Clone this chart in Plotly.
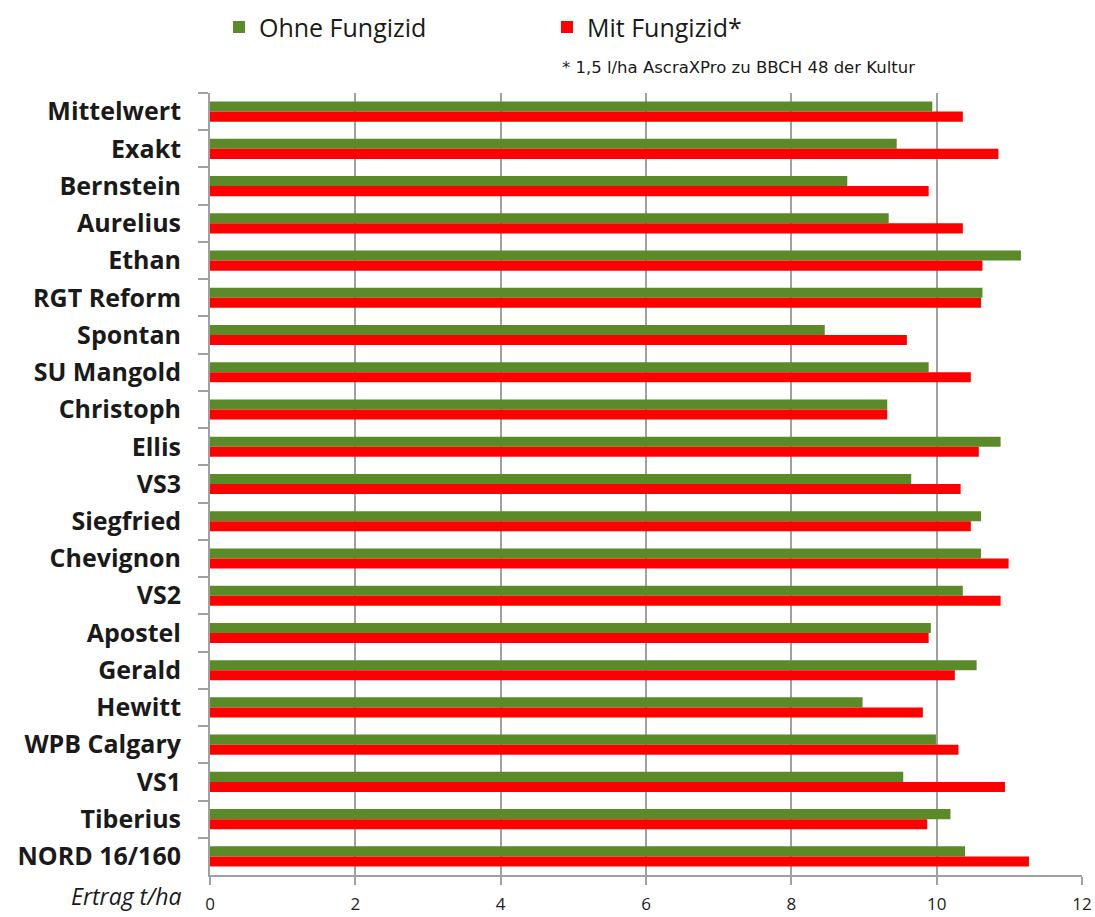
import plotly.graph_objects as go

sorten = ["Mittelwert", "Exakt", "Bernstein", "Aurelius", "Ethan", "RGT Reform",
          "Spontan", "SU Mangold", "Christoph", "Ellis", "VS3", "Siegfried",
          "Chevignon", "VS2", "Apostel", "Gerald", "Hewitt", "WPB Calgary",
          "VS1", "Tiberius", "NORD 16/160"]
ohne_fungizid = [9.94, 9.45, 8.77, 9.34, 11.16, 10.63, 8.46, 9.89, 9.32, 10.88, 9.65,
                 10.61, 10.61, 10.36, 9.92, 10.55, 8.98, 9.99, 9.54, 10.19, 10.39]
mit_fungizid = [10.36, 10.85, 9.89, 10.36, 10.63, 10.61, 9.59, 10.47, 9.32, 10.58, 10.33,
                10.47, 10.99, 10.88, 9.89, 10.25, 9.81, 10.30, 10.94, 9.87, 11.27]
x_ticks = [0, 2, 4, 6, 8, 10, 12]

FONT = "Open Sans"

fig = go.Figure()
fig.add_trace(go.Bar(y=sorten, x=ohne_fungizid, orientation="h", name="Ohne Fungizid",
                     marker=dict(color="#5B8A28", line=dict(width=0))))
fig.add_trace(go.Bar(y=sorten, x=mit_fungizid, orientation="h", name="Mit Fungizid*",
                     marker=dict(color="#FF0000", line=dict(width=0))))

fig.update_layout(
    width=1095, height=917,
    margin=dict(l=210, r=13, t=93, b=42, autoexpand=False),
    paper_bgcolor="white", plot_bgcolor="white",
    barmode="group", bargap=0.46, bargroupgap=0,
    font=dict(family=FONT, color="#1a1a1a"),
    legend=dict(orientation="h", x=0.0103, xanchor="left", y=1.084, yanchor="middle",
                font=dict(size=25, family=FONT, color="#1a1a1a"),
                entrywidth=283, entrywidthmode="pixels", traceorder="normal",
                itemclick=False),
    xaxis=dict(range=[0, 12], tickvals=x_ticks, showgrid=True, gridcolor="#a0a0a0",
               gridwidth=2, showline=True, linecolor="#a0a0a0", linewidth=2,
               ticks="outside", ticklen=8, tickcolor="#a0a0a0", tickwidth=2,
               tickfont=dict(size=17, family=FONT, color="#222222"),
               ticklabelstandoff=5, zeroline=False, automargin=False),
    yaxis=dict(categoryorder="array", categoryarray=sorten, autorange="reversed",
               showline=True, linecolor="#a0a0a0", linewidth=2,
               ticks="outside", ticklen=10, tickcolor="#a0a0a0", tickwidth=2,
               tickson="boundaries", showgrid=False, automargin=False,
               tickfont=dict(size=25, family=FONT, color="#1a1a1a", weight="bold"),
               ticklabelstandoff=22),
    annotations=[
        dict(text="Ertrag t/ha", xref="paper", yref="paper", x=-0.031, y=-0.0505,
             xanchor="right", yanchor="bottom", showarrow=False,
             font=dict(size=23, family=FONT, color="#1a1a1a", style="italic")),
        dict(text="* 1,5 l/ha AscraXPro zu BBCH 48 der Kultur", xref="paper", yref="paper",
             x=0.401, y=1.032, xanchor="left", yanchor="middle", showarrow=False,
             font=dict(size=16.5, family="DejaVu Sans", color="#1a1a1a")),
    ],
)

fig.write_html(
    "out.html",
    config={"displayModeBar": False},
    post_script="document.body.style.margin='0';document.body.style.overflow='hidden';",
)
